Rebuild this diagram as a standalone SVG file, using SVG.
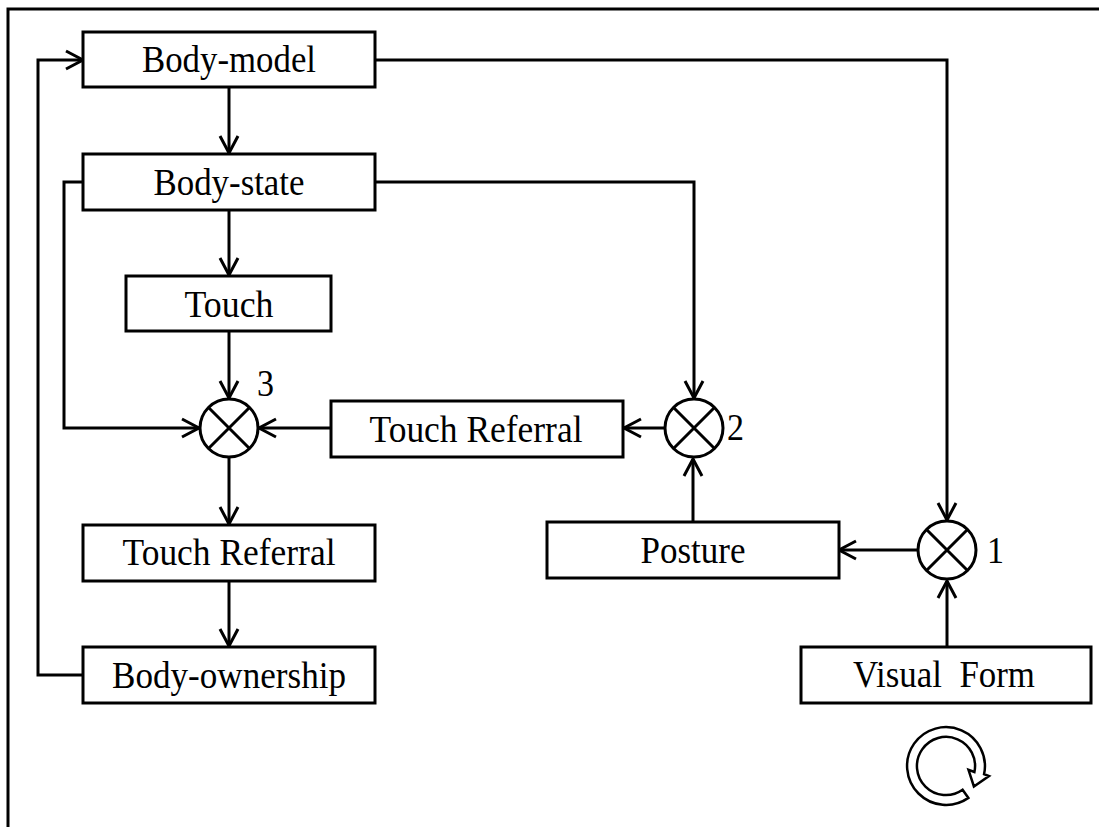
<svg xmlns="http://www.w3.org/2000/svg" width="1099" height="827" viewBox="0 0 1099 827">
  <style>
    .box { fill: #fff; stroke: #000; stroke-width: 3; }
    .lbl { font-family: "Liberation Serif", "Times New Roman", serif; font-size: 37px; fill: #000; text-anchor: middle; }
    .num { font-family: "Liberation Serif", "Times New Roman", serif; font-size: 37px; fill: #000; }
    .wire { fill: none; stroke: #000; stroke-width: 3; }
    .arrow { fill: none; stroke: #000; stroke-width: 3; marker-end: url(#chev); }
    .mult { fill: #fff; stroke: #000; stroke-width: 3; }
  </style>
  <defs>
    <marker id="chev" markerUnits="userSpaceOnUse" viewBox="-20 -12 24 24" refX="0" refY="0" markerWidth="24" markerHeight="24" orient="auto" overflow="visible">
      <path d="M-17,-9 L0,0 L-17,9" fill="none" stroke="#000" stroke-width="3" stroke-linejoin="miter"/>
    </marker>
  </defs>
  <rect width="1099" height="827" fill="#fff"/>

  <!-- outer frame -->
  <path d="M8,827 V9 H1099" fill="none" stroke="#000" stroke-width="3"/>

  <!-- connectors -->
  <g id="connectors">
    <path class="arrow" d="M83,675 H38 V60 H83" />
    <path class="arrow" d="M375,60 H947 V520" />
    <path class="arrow" d="M229,87 V153" />
    <path class="arrow" d="M375,182 H694 V398" />
    <path class="arrow" d="M83,182 H64 V428 H199" />
    <path class="arrow" d="M229,210 V275" />
    <path class="arrow" d="M229,331 V398" />
    <path class="arrow" d="M331,428 H259" />
    <path class="arrow" d="M665,428 H624" />
    <path class="arrow" d="M693,523 V459" />
    <path class="arrow" d="M918,550 H839" />
    <path class="arrow" d="M947,647 V581" />
    <path class="arrow" d="M229,458 V524" />
    <path class="arrow" d="M229,581 V646" />
  </g>

  <!-- boxes -->
  <g id="body-model">
    <rect class="box" x="83" y="32" width="292" height="55"/>
    <text class="lbl" x="229" y="72" textLength="174" lengthAdjust="spacingAndGlyphs">Body-model</text>
  </g>
  <g id="body-state">
    <rect class="box" x="83" y="154" width="292" height="56"/>
    <text class="lbl" x="229" y="195" textLength="151" lengthAdjust="spacingAndGlyphs">Body-state</text>
  </g>
  <g id="touch">
    <rect class="box" x="126" y="276" width="205" height="55"/>
    <text class="lbl" x="229" y="317" textLength="89" lengthAdjust="spacingAndGlyphs">Touch</text>
  </g>
  <g id="touch-referral-upper">
    <rect class="box" x="331" y="401" width="292" height="56"/>
    <text class="lbl" x="476" y="442" textLength="213" lengthAdjust="spacingAndGlyphs">Touch Referral</text>
  </g>
  <g id="touch-referral-lower">
    <rect class="box" x="83" y="525" width="292" height="56"/>
    <text class="lbl" x="229" y="565" textLength="213" lengthAdjust="spacingAndGlyphs">Touch Referral</text>
  </g>
  <g id="body-ownership">
    <rect class="box" x="83" y="647" width="292" height="56"/>
    <text class="lbl" x="229" y="688" textLength="234" lengthAdjust="spacingAndGlyphs">Body-ownership</text>
  </g>
  <g id="posture">
    <rect class="box" x="547" y="522" width="292" height="56"/>
    <text class="lbl" x="693" y="563" textLength="105" lengthAdjust="spacingAndGlyphs">Posture</text>
  </g>
  <g id="visual-form">
    <rect class="box" x="801" y="647" width="290" height="56"/>
    <text class="lbl" x="944" y="687" xml:space="preserve" textLength="182" lengthAdjust="spacingAndGlyphs">Visual  Form</text>
  </g>

  <!-- multipliers -->
  <g id="mult-3">
    <circle class="mult" cx="229" cy="428" r="29"/>
    <path class="wire" d="M208.5,407.5 L249.5,448.5 M249.5,407.5 L208.5,448.5"/>
    <text class="num" x="257" y="396" textLength="17" lengthAdjust="spacingAndGlyphs">3</text>
  </g>
  <g id="mult-2">
    <circle class="mult" cx="694" cy="428" r="29"/>
    <path class="wire" d="M673.5,407.5 L714.5,448.5 M714.5,407.5 L673.5,448.5"/>
    <text class="num" x="727" y="440" textLength="17" lengthAdjust="spacingAndGlyphs">2</text>
  </g>
  <g id="mult-1">
    <circle class="mult" cx="947" cy="550" r="29"/>
    <path class="wire" d="M926.5,529.5 L967.5,570.5 M967.5,529.5 L926.5,570.5"/>
    <text class="num" x="987" y="563" textLength="17" lengthAdjust="spacingAndGlyphs">1</text>
  </g>

  <!-- cycle symbol -->
  <g id="cycle-icon">
    <path d="M968.4,797.9 A39,39 0 0 1 914.1,743.6 A39,39 0 0 1 984.1,774.1 L989,776 L973.9,786.5 L968.5,769.8 L974.4,772 A29,29 0 0 0 922.2,749.4 A29,29 0 0 0 962.6,789.8 Z" fill="#fff" stroke="#000" stroke-width="2.5" stroke-linejoin="miter"/>
  </g>
</svg>
